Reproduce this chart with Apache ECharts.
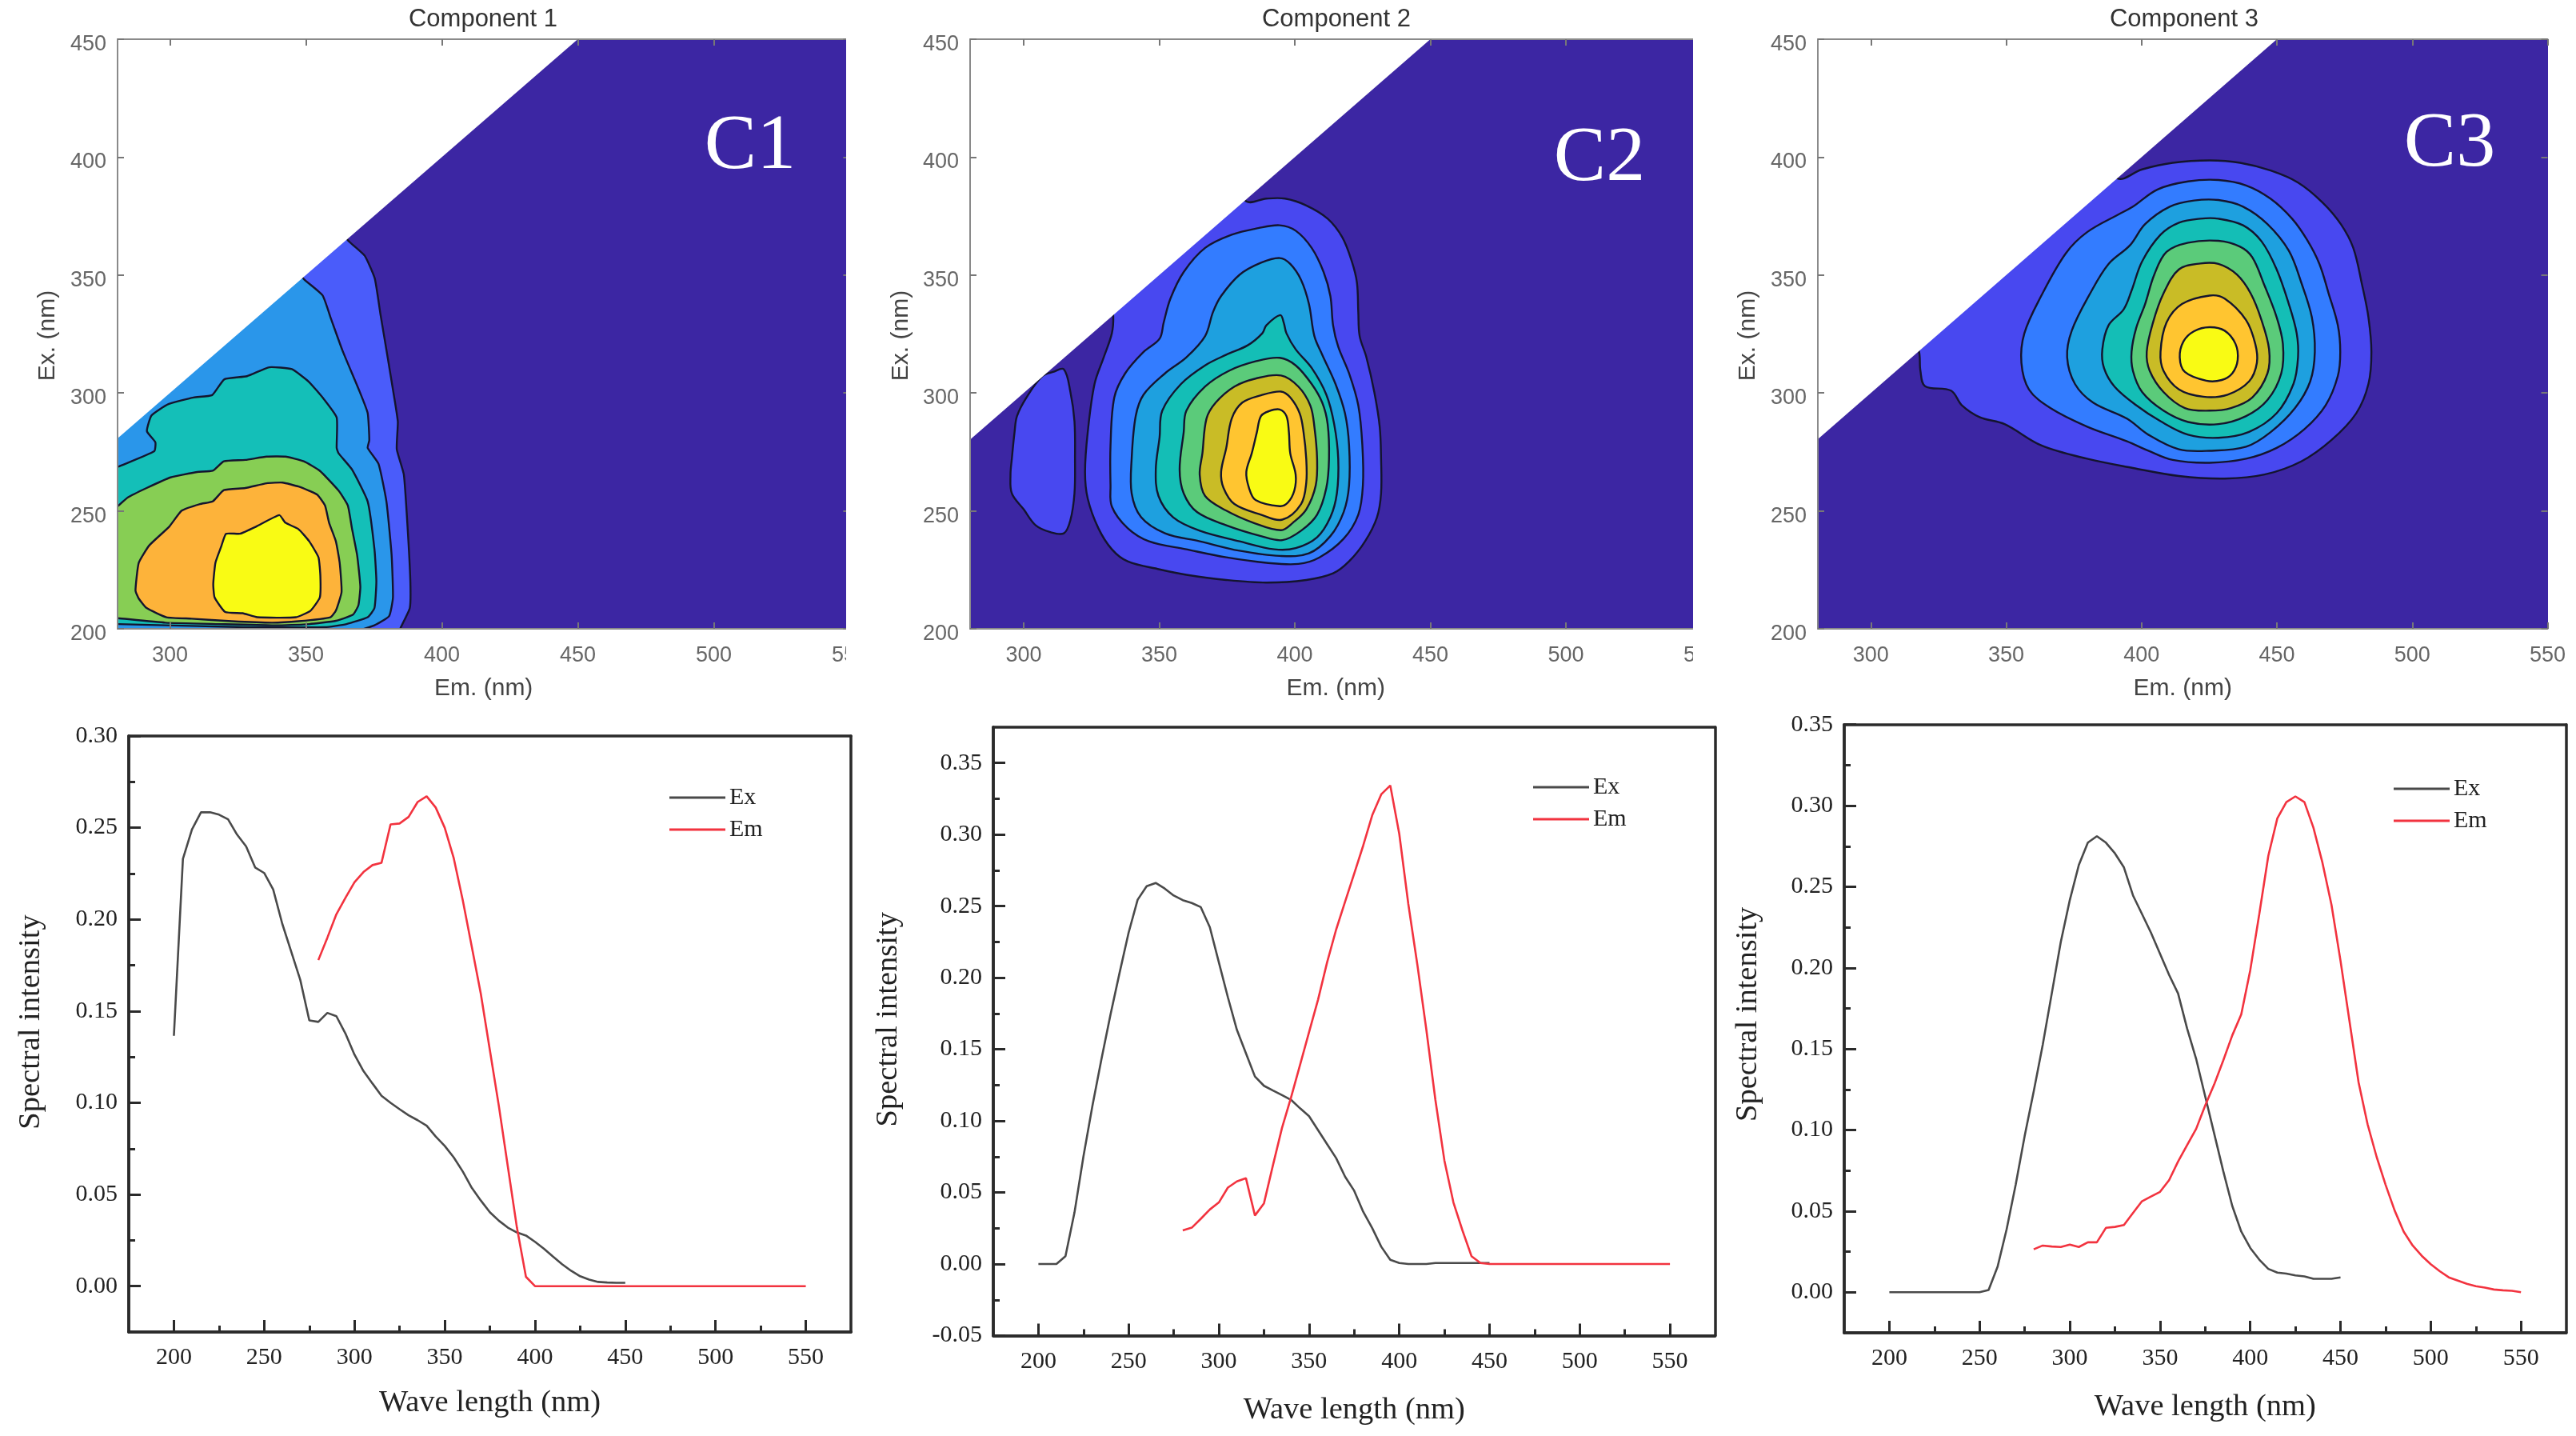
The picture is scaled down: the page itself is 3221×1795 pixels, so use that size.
<!DOCTYPE html>
<html><head><meta charset="utf-8">
<style>html,body{margin:0;padding:0;background:#fff}#chart{width:3221px;height:1795px;filter:blur(0.7px)}</style>
<script src="https://cdn.jsdelivr.net/npm/echarts@6/dist/echarts.min.js"></script>
</head><body><div id="chart"></div>
<script>
// ---------- spectral line data ----------
const exWave=[200,205,210,215,220,225,230,235,240,245,250,255,260,265,270,275,280,285,290,295,300,305,310,315,320,325,330,335,340,345,350,355,360,365,370,375,380,385,390,395,400,405,410,415,420,425,430,435,440,445,450];
const emWave=[280,285,290,295,300,305,310,315,320,325,330,335,340,345,350,355,360,365,370,375,380,385,390,395,400,405,410,415,420,425,430,435,440,445,450,455,460,465,470,475,480,485,490,495,500,505,510,515,520,525,530,535,540,545,550];
const ex1=[0.1365,0.233,0.249,0.2584,0.2584,0.2571,0.2546,0.2462,0.2398,0.2283,0.2253,0.2163,0.1977,0.1824,0.167,0.1449,0.1441,0.149,0.1472,0.1378,0.1263,0.1173,0.1105,0.1038,0.1,0.0965,0.0932,0.0905,0.0875,0.0816,0.0765,0.0702,0.0625,0.0536,0.0467,0.0403,0.0357,0.0319,0.0293,0.0276,0.0242,0.0204,0.0161,0.012,0.0084,0.0054,0.0036,0.0023,0.002,0.0018,0.0018];
const em1=[0.1778,0.19,0.2028,0.2117,0.2202,0.2258,0.2296,0.2309,0.2518,0.2523,0.2559,0.264,0.2671,0.261,0.25,0.2334,0.2105,0.185,0.1594,0.1288,0.0982,0.065,0.0319,0.0051,0,0,0,0,0,0,0,0,0,0,0,0,0,0,0,0,0,0,0,0,0,0,0,0,0,0,0,0,0,0,0];
const ex2=[0,0,0,0.0055,0.036,0.0755,0.111,0.1435,0.1745,0.2035,0.2315,0.2545,0.2639,0.2662,0.2623,0.2574,0.2542,0.2522,0.2493,0.2353,0.2108,0.1864,0.1636,0.1473,0.131,0.1245,0.1212,0.118,0.1147,0.1088,0.1033,0.0935,0.0837,0.074,0.0609,0.0512,0.0365,0.0251,0.0121,0.0029,0.0007,0,0,0,0.0007,0.0007,0.0007,0.0007,0.0007,0.0007,0.0007];
const em2=[0.0235,0.0254,0.0316,0.0381,0.043,0.0534,0.0577,0.06,0.0339,0.0424,0.0691,0.0951,0.1163,0.1391,0.162,0.1848,0.2108,0.2336,0.2532,0.2727,0.2923,0.3135,0.3281,0.3343,0.3004,0.2515,0.2092,0.1636,0.1147,0.0723,0.043,0.0235,0.0055,0.0007,0,0,0,0,0,0,0,0,0,0,0,0,0,0,0,0,0,0,0,0,0];
const ex3=[0,0,0,0,0,0,0,0,0,0,0,0.0014,0.0158,0.0389,0.0662,0.0964,0.1238,0.1526,0.1842,0.2159,0.2418,0.2634,0.2772,0.2812,0.2772,0.2706,0.2619,0.2447,0.2332,0.2216,0.2087,0.1957,0.1842,0.1626,0.1439,0.1209,0.0979,0.0748,0.0533,0.0374,0.0273,0.0201,0.0144,0.0121,0.0115,0.0104,0.0098,0.0083,0.0083,0.0083,0.0092];
const em3=[0.0265,0.0288,0.0282,0.0279,0.0294,0.0279,0.0308,0.0308,0.0397,0.0403,0.0415,0.0489,0.0561,0.059,0.0619,0.0691,0.0806,0.0907,0.1007,0.1151,0.1281,0.1428,0.1583,0.1713,0.1986,0.2332,0.2691,0.2922,0.3022,0.3057,0.3022,0.2864,0.2648,0.2389,0.2044,0.167,0.1295,0.1036,0.0835,0.0662,0.0504,0.0374,0.0288,0.0225,0.0173,0.013,0.0092,0.0072,0.0052,0.0037,0.0029,0.0017,0.0012,0.0009,0];

// ---------- tick labels ----------
const mapXTicks=[300,350,400,450,500,550];
const mapYTicks=[200,250,300,350,400,450];
const wlMajor=[200,250,300,350,400,450,500,550];
const wlMinor=[225,275,325,375,425,475,525];
const intMajor1=[0,0.05,0.10,0.15,0.20,0.25,0.30];
const intMinor1=[0.025,0.075,0.125,0.175,0.225,0.275];
const intMajor2=[-0.05,0,0.05,0.10,0.15,0.20,0.25,0.30,0.35];
const intMinor2=[-0.025,0.025,0.075,0.125,0.175,0.225,0.275,0.325];
const intMajor3=[0,0.05,0.10,0.15,0.20,0.25,0.30,0.35];
const intMinor3=[0.025,0.075,0.125,0.175,0.225,0.275,0.325];

// ---------- contour outlines as [Em, Ex] in nm ----------
const mapArea=[[270,190],[560,190],[560,460],[270,460]];
const unmeasured=[[270,270],[460,460],[270,460]];
const c1L1=[[358,378],[365.4,364.8],[371.6,358.2],[375.3,348.6],[377.4,333.4],[379.9,316.2],[382.6,297.2],[383.8,287.7],[383.4,276.2],[386,265.4],[387.4,242.7],[388.4,220.1],[388.2,208.8],[385,200.9],[383.6,198],[275,198],[275,300],[340,375]];
const c1L2=[[342,358],[349.3,348.2],[356.1,341.4],[359.2,331.5],[363.4,318.1],[369.6,301],[372.7,291.5],[373.3,280],[372.7,276.7],[376.7,269.9],[379.6,254],[381.5,231.4],[382,213.3],[380.6,205.4],[375.2,201.5],[364.9,198],[275,198],[275,295],[330,358]];
const c1L3=[[276,266],[280.9,268.7],[294.2,275.3],[294.6,279.1],[291.5,283.8],[293.2,290.5],[299.4,295.3],[308.7,298.1],[315.5,299.1],[320,305.8],[328.3,307.1],[336.5,310.9],[344.8,310.1],[351,304.8],[356.1,298.1],[361.3,289.6],[361.3,276.7],[362,274.4],[366.9,267.6],[372.7,254],[375.2,233.7],[375.9,220.1],[375.2,208.8],[372.7,204.9],[364.9,202],[357,200.7],[327.7,200.7],[280.9,202],[276,202]];
const c1L4=[[276,248],[280,251.2],[284.5,255.7],[291.4,259.7],[300.2,264.2],[310,266.5],[315.7,267],[319.8,271],[327.7,271.6],[335.5,273],[342.4,273],[349.2,271],[355.1,267],[362,258.6],[365.4,252.3],[366.9,242.7],[368.8,231.4],[370,217.9],[369.3,210],[367.3,206],[361,203.4],[351.2,202],[337.5,201.5],[317.9,202],[298.3,202.6],[280.9,204.5],[276,205]];
const c1L5=[[287.3,216.2],[288.5,228],[292.4,235.4],[299.7,243.3],[304.3,250.1],[311,252.9],[315.7,254],[319.8,258.8],[327.7,259.7],[335.5,261.7],[341.4,262],[347.3,260.3],[354.1,256.9],[357,252.3],[358.5,245],[361,237.1],[362.4,228],[363.1,215.6],[361,207.7],[359,204.9],[347.3,203.2],[337.5,202.6],[322.7,203.2],[308,204.3],[298.7,204.9],[291.4,208.8],[288.5,212.8]];
const c1L6=[[320.6,240.3],[325.7,240.3],[331.6,243.3],[340.2,248.2],[342.4,245],[347.3,242.2],[351.2,237.1],[354.6,230.3],[355.3,222.4],[355.1,213.3],[351.7,207.7],[346.3,204.9],[332.1,204.9],[326.7,206.6],[320.3,207.1],[316.4,213.3],[315.9,219],[316.7,228],[318.8,234.8]];

const c2Island=[[314.8,310],[310.8,308.9],[306.9,307.2],[301,298.1],[297.5,290.2],[296.6,283.4],[295.6,272.1],[295.1,265.3],[295.6,257.4],[300,250.6],[304.4,243.9],[309.8,241],[314.8,240.5],[317.2,246.1],[318.7,257.4],[318.9,272.1],[318.7,288],[317.2,300.4]];
const c2L1=[[375,392],[382.1,381.2],[389.5,382.4],[396.4,382.4],[404.2,379.5],[412.1,373.9],[417.5,366],[421,355.8],[422.9,346.8],[423.4,334.3],[423.9,324.1],[426.4,315.1],[429.3,300.4],[431.3,285.7],[431.8,272.1],[431.8,257.4],[430.3,247.3],[425.9,237.1],[420,228.6],[414.1,223.5],[404.2,220.7],[389.5,219.6],[374.7,220.7],[360,222.9],[350.1,225.2],[338.3,228.6],[332.5,233.7],[327.5,242.7],[323.6,255.2],[322.6,266.5],[323.6,283.4],[326.1,303.8],[329.5,315.1],[332.5,325.3],[333,332.6],[332,345]];
const c2L2=[[394.4,371.1],[400.3,368.8],[406.2,361.5],[410.6,351.3],[413.1,341.1],[414.1,328.7],[416,319.6],[420,308.3],[423.4,294.7],[424.9,277.8],[425.1,260.8],[423.4,248.4],[418,238.2],[409.1,230.3],[401.3,227.5],[389.5,228],[374.7,230.3],[360,233.7],[346.2,237.1],[338.3,242.7],[332.5,251.8],[332,260.8],[332,277.8],[333.4,298.1],[337.4,308.3],[344.2,317.4],[350.1,323],[351.6,329.8],[354.1,340],[359,351.3],[366.9,361.5],[376.7,367.1],[386.5,369.9]];
const c2L3=[[394.4,357.2],[398.3,354.7],[402.3,347.9],[405.2,337.7],[407.2,324.1],[410.1,316.2],[415,303.8],[418.5,291.3],[420,277.8],[420,260.8],[418,249.5],[413.1,239.3],[405.2,232],[394.4,230.9],[379.6,233.1],[364.9,237.1],[352.1,240.5],[343.3,247.3],[339.8,257.4],[339.8,272.1],[341.3,290.2],[344.2,299.3],[352.1,308.3],[360,315.1],[366.9,324.1],[369.8,334.3],[372.8,341.1],[379.6,350.1],[387.5,355.2]];
const c2L4=[[394.6,333],[395.9,329.8],[396.9,325.3],[400.3,318.5],[406.2,310.6],[411.6,299.3],[414.5,286.8],[416,272.1],[415.5,257.4],[413.1,247.3],[408.2,238.8],[400.3,234.2],[392.4,233.7],[379.6,237.1],[364.9,241.6],[355.1,247.3],[349.7,256.3],[348.7,267.6],[350.1,281.2],[351.1,292.5],[358,303.8],[366.9,311.7],[374.7,316.2],[382.6,320.2],[388,325.3],[389.5,328.7]];
const c2L5=[[394.4,314.9],[400.3,311.7],[406.2,303.8],[410.1,295.9],[412.1,286.8],[412.6,272.1],[411.6,259.7],[408.2,248.4],[402.3,241.6],[395.4,237.6],[387.5,239.3],[374.7,243.9],[363.9,249.5],[359,257.4],[357.5,267.6],[359,283.4],[360,292.5],[366.9,302.7],[375.7,309.4],[385.5,313.4]];
const c2L6=[[394.9,307.4],[401.3,302.7],[405.7,294.7],[407.2,285.7],[408.2,272.1],[407.7,260.8],[404.2,250.6],[399.3,245],[394.9,241.8],[384.6,245],[374.7,250.1],[366.9,256.3],[364.9,265.3],[365.9,274.4],[367.4,289.1],[370.8,295.9],[377.7,302.7],[385.5,306.1]];
const c2L7=[[394.9,300.6],[398.3,298.1],[401.8,291.3],[403.2,283.4],[404.2,272.1],[404.2,261.9],[402.3,252.9],[395.4,246.3],[387.5,248.4],[377.7,252.9],[373.7,259.7],[372.8,266.5],[374.7,276.7],[376.7,289.1],[380.6,295.9],[387.5,299]];
const c2L8=[[394.4,293],[396.9,290.2],[397.8,283.4],[398.3,274.4],[400.3,265.3],[399.8,258.6],[397.4,253.5],[394.4,252],[385.5,254.6],[383.1,259.7],[382.1,266.5],[384.1,274.4],[386,283.4],[387.5,290.2],[390.5,292.3]];

const c3L1=[[385,402],[391.2,390.9],[400.2,394.8],[411.5,397.6],[425.1,398.6],[436.4,397.6],[447.7,394.3],[457.8,389.2],[466.9,380.7],[473.6,371.6],[478.2,361.5],[481.5,345.6],[483.8,332.1],[484.9,317.4],[483.8,303.8],[479.3,291.4],[470.2,280.1],[459,271],[445.4,265.4],[430.7,263.7],[413.8,264.8],[396.8,268.2],[379.9,272.1],[362.9,277.8],[349.4,286.8],[340.3,289.7],[333.6,294.8],[329.6,301],[320,302.9],[318.3,309.4],[317.7,317.9],[312,335]];
const c3L2=[[428.4,390.3],[438.6,388],[447.6,382.4],[455.6,373.9],[461.2,364.8],[465.7,354.7],[469.1,342.2],[472.5,328.7],[473.4,317.4],[472.5,307.2],[468,294.8],[460.1,284.6],[449.9,276.7],[438.6,272.1],[425.1,270.4],[411.5,271.6],[402.5,275.5],[394.6,279.5],[379.9,285.7],[366.3,293.6],[358.4,301.5],[355.6,312.8],[356.7,325.3],[362.9,341.1],[372,359.2],[379.9,368.2],[392.3,376.2],[396.8,379],[405.9,386.3],[417.2,389.7]];
const c3L3=[[428.4,381.8],[437.5,379],[446.5,371.6],[454.4,360.3],[459,346.8],[462.9,332.1],[464,317.4],[462.3,304.9],[456.7,293.6],[447.7,283.4],[438.6,277.2],[425.1,275.5],[413.8,276.1],[402.5,282.3],[394.6,289.1],[382.1,295.9],[375.4,303.8],[372.5,315.1],[374.2,326.4],[381,342.2],[387.8,354.7],[395.7,362.6],[401.3,371.6],[410.4,379],[419.4,381.6]];
const c3L4=[[428.4,373.9],[437.5,371.1],[444.3,364.3],[449.9,352.4],[454.4,337.7],[457.3,325.3],[457.8,315.1],[456.1,303.8],[449.9,291.4],[439.7,283.5],[428.4,281],[417.2,282.3],[407,288],[398,294.8],[390,302.7],[386.1,310.6],[385.5,318.5],[387.8,328.7],[393.4,335.5],[396.3,343.4],[400.2,355.8],[407,367.1],[413.8,372.2],[421.7,373.9]];
const c3L5=[[428.4,364.5],[436.4,362],[440.9,357.5],[445.4,345.6],[449.9,332.1],[452.2,320.8],[451.6,308.3],[446.5,297],[438.6,290.2],[428.4,286.8],[417.2,287.7],[408.1,292.5],[400.2,300.4],[396.8,309.4],[396.3,317.4],[398,327.5],[401.3,337.7],[404.7,350.2],[409.2,359.8],[417.2,363.7]];
const c3L6=[[428.4,354.7],[435.2,350.2],[440.3,342.2],[444.3,330.9],[447.1,318.5],[446.5,308.3],[440.9,298.1],[433,293.6],[425.1,292.5],[416,293.6],[408.1,300.4],[403,309.4],[401.9,317.4],[404.2,329.8],[408.1,342.2],[413.8,352.4],[421.7,354.9]];
const c3L7=[[425.1,341.3],[430.7,340],[438.6,330.9],[442,320.8],[442.6,312.8],[439.7,304.9],[431.8,299.3],[422.8,298.4],[413.8,301.5],[408.1,309.4],[407,317.4],[409.2,329.8],[414.9,337.7]];
const c3L8=[[425.1,327.9],[430.7,326.4],[434.7,320.8],[435.5,314],[433.5,308.3],[429.6,305.5],[423.9,305.2],[416,308.9],[414.1,315.1],[415.5,321.9],[419.4,326.2]];

// ---------- styling ----------
const base='#3C26A3', white='#ffffff';
const c1Colors=['#4A5CFA','#2A96EA','#14BFB8','#87CE54','#FDB33A','#F9FB14'];
const c23Colors=['#4848F0','#337CFF','#1EA0DF','#14BEB6','#5BCB7A','#C9BC26','#FFC530','#F9FB14'];
const sans='"Liberation Sans",Arial,sans-serif', serif='"Liberation Serif","Times New Roman",serif';

const maps=[
 {title:'Component 1',tag:'C1',left:147,width:915.4,xMin:280.7,titleX:599,tagX:933,tagY:186,gap:72,
  polys:[c1L1,c1L2,c1L3,c1L4,c1L5,c1L6],colors:c1Colors,smooth:0.15,coverFrom:1058},
 {title:'Component 2',tag:'C2',left:1213,width:914.5,xMin:280.2,titleX:1666,tagX:1995,tagY:201,gap:71,
  polys:[c2Island,c2L1,c2L2,c2L3,c2L4,c2L5,c2L6,c2L7,c2L8],colors:[c23Colors[0]].concat(c23Colors),smooth:0.35,coverFrom:2117},
 {title:'Component 3',tag:'C3',left:2273,width:912.5,xMin:280.4,titleX:2726,tagX:3058,tagY:183,gap:72,
  polys:[c3L1,c3L2,c3L3,c3L4,c3L5,c3L6,c3L7,c3L8],colors:c23Colors,smooth:0.35,coverFrom:null}
];
const spectra=[
 {ex:ex1,em:em1,left:161,right:1064,top:920,bottom:1665,yMin:-0.025,yMax:0.30,major:intMajor1,minor:intMinor1,nameGap:69,yGap:103,yShift:30,labelM:17,legend:[832,977]},
 {ex:ex2,em:em2,left:1242,right:2144.5,top:909,bottom:1669.5,yMin:-0.05,yMax:0.375,major:intMajor2,minor:intMinor2,nameGap:74,yGap:112,yShift:30,labelM:18,legend:[1912,964]},
 {ex:ex3,em:em3,left:2306,right:3208.6,top:905.7,bottom:1666,yMin:-0.025,yMax:0.35,major:intMajor3,minor:intMinor3,nameGap:73.5,yGap:101,yShift:36,labelM:17,legend:[2988,966]}
];

const grid=[],xAxis=[],yAxis=[],series=[],title=[],legend=[],graphic=[];
const grayLine={show:true,onZero:false,lineStyle:{color:'#8a8a8a',width:2}};
const MAPTOP=49,MAPBOT=786;

maps.forEach(m=>{
  const g=grid.length;
  grid.push({left:m.left,top:MAPTOP,width:m.width,height:MAPBOT-MAPTOP});
  const xi=xAxis.length,yi=yAxis.length;
  const inTick=(vals,color)=>({show:true,inside:true,length:8,customValues:vals,lineStyle:{color:color||'#777',width:2}});
  xAxis.push({type:'value',gridIndex:g,min:m.xMin,max:550,position:'bottom',z:10,splitLine:{show:false},
    axisLine:grayLine,axisTick:inTick(mapXTicks),
    axisLabel:{customValues:mapXTicks,margin:20,color:'#666',fontFamily:sans,fontSize:27},
    name:'Em. (nm)',nameLocation:'middle',nameGap:60,nameTextStyle:{color:'#444',fontFamily:sans,fontSize:30}});
  xAxis.push({type:'value',gridIndex:g,min:m.xMin,max:550,position:'top',z:10,splitLine:{show:false},
    axisLine:grayLine,axisTick:inTick(mapXTicks),axisLabel:{show:false}});
  yAxis.push({type:'value',gridIndex:g,min:200,max:450,position:'left',z:10,splitLine:{show:false},
    axisLine:grayLine,axisTick:inTick(mapYTicks),
    axisLabel:{customValues:mapYTicks,margin:14,color:'#666',fontFamily:sans,fontSize:27,verticalAlign:'top',padding:[-7,0,0,0]},
    name:'Ex. (nm)',nameLocation:'middle',nameGap:m.gap,nameTextStyle:{color:'#444',fontFamily:sans,fontSize:30,padding:[0,4,0,0]}});
  yAxis.push({type:'value',gridIndex:g,min:200,max:450,position:'right',z:10,splitLine:{show:false},
    axisLine:{show:false,onZero:false},axisTick:inTick(mapYTicks),axisLabel:{show:false}});
  const polys=[mapArea].concat(m.polys,[unmeasured]);
  const fills=[base].concat(m.colors,[white]);
  series.push({type:'custom',coordinateSystem:'cartesian2d',xAxisIndex:xi,yAxisIndex:yi,clip:true,silent:true,z:2,
    data:polys.map((p,i)=>[i]),
    encode:{x:-1,y:-1},
    renderItem:(params,api)=>{
      const i=params.dataIndex,edge=(i===0||i===polys.length-1);
      return {type:'polygon',shape:{points:polys[i].map(p=>api.coord(p)),smooth:edge?0:m.smooth},
        style:{fill:fills[i],stroke:edge?null:'#14142e',lineWidth:edge?0:2.4}};
    }});
  title.push({text:m.title,left:m.titleX,top:4,textAlign:'center',textStyle:{color:'#333',fontFamily:sans,fontSize:31,fontWeight:'normal'}});
  title.push({text:m.tag,left:m.tagX,top:m.tagY-56,textAlign:'center',z:12,textStyle:{color:'#fff',fontFamily:serif,fontSize:98,fontWeight:'normal'}});
  if(m.coverFrom) graphic.push({type:'rect',z:100,shape:{x:m.coverFrom,y:40,width:34,height:800},style:{fill:'#fff'}});
});

spectra.forEach(s=>{
  const g=grid.length;
  grid.push({left:s.left,top:s.top,width:s.right-s.left,height:s.bottom-s.top});
  const xi=xAxis.length,yi=yAxis.length;
  const line={show:true,onZero:false,lineStyle:{color:'#2a2a2a',width:3.5}};
  const tick=(vals,len)=>({show:true,inside:true,length:len,customValues:vals,lineStyle:{color:'#2a2a2a',width:3}});
  const xB={type:'value',gridIndex:g,min:175,max:575,z:10,splitLine:{show:false}};
  const yB={type:'value',gridIndex:g,min:s.yMin,max:s.yMax,z:10,splitLine:{show:false}};
  xAxis.push(Object.assign({},xB,{position:'bottom',axisLine:line,axisTick:tick(wlMajor,15),
    axisLabel:{customValues:wlMajor,margin:s.labelM,color:'#222',fontFamily:serif,fontSize:30},
    name:'Wave length (nm)',nameLocation:'middle',nameGap:s.nameGap,nameTextStyle:{color:'#222',fontFamily:serif,fontSize:38.5}}));
  xAxis.push(Object.assign({},xB,{position:'bottom',axisLine:line,axisTick:tick(wlMinor,8),axisLabel:{show:false}}));
  xAxis.push(Object.assign({},xB,{position:'top',axisLine:line,axisTick:{show:false},axisLabel:{show:false}}));
  yAxis.push(Object.assign({},yB,{position:'left',axisLine:line,axisTick:tick(s.major,15),
    axisLabel:{customValues:s.major,margin:14,color:'#222',fontFamily:serif,fontSize:30,formatter:v=>v.toFixed(2)},
    name:'Spectral intensity',nameLocation:'middle',nameGap:s.yGap,nameTextStyle:{color:'#222',fontFamily:serif,fontSize:38.5,padding:[0,0,0,s.yShift]}}));
  yAxis.push(Object.assign({},yB,{position:'left',axisLine:line,axisTick:tick(s.minor,8),axisLabel:{show:false}}));
  yAxis.push(Object.assign({},yB,{position:'right',axisLine:line,axisTick:{show:false},axisLabel:{show:false}}));
  series.push({name:'Ex',type:'line',xAxisIndex:xi,yAxisIndex:yi,symbol:'none',silent:true,clip:true,
    lineStyle:{color:'#4a4a4a',width:2.6},itemStyle:{color:'#4a4a4a'},data:exWave.map((w,i)=>[w,s.ex[i]])});
  series.push({name:'Em',type:'line',xAxisIndex:xi,yAxisIndex:yi,symbol:'none',silent:true,clip:true,
    lineStyle:{color:'#f2333f',width:2.6},itemStyle:{color:'#f2333f'},data:emWave.map((w,i)=>[w,s.em[i]])});
  legend.push({orient:'vertical',left:s.legend[0],top:s.legend[1],icon:'rect',itemWidth:70,itemHeight:3,itemGap:10,selectedMode:false,
    data:['Ex','Em'],textStyle:{color:'#222',fontFamily:serif,fontSize:30}});
});

const chart=echarts.init(document.getElementById('chart'),null,{renderer:'canvas'});
chart.setOption({animation:false,backgroundColor:'#fff',title,grid,xAxis,yAxis,legend,series,graphic});
</script></body></html>
